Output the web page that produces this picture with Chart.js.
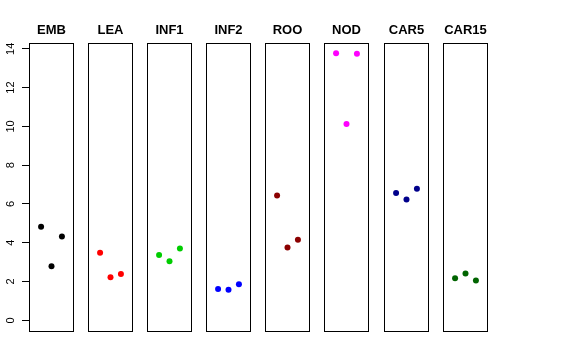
<!DOCTYPE html>
<html>
<head>
<meta charset="utf-8">
<script src="https://cdn.jsdelivr.net/npm/chart.js@4/dist/chart.umd.min.js"></script>
<style>
    body { margin: 0; background: #fff; }
    #wrap { position: relative; width: 576px; height: 360px; }
    #wrap canvas { position: absolute; top: 0; }
</style>
</head>
<body>
<div id="wrap"></div>
<script>
const panelNames = ['EMB', 'LEA', 'INF1', 'INF2', 'ROO', 'NOD', 'CAR5', 'CAR15'];
const panelColors = ['#000000', '#FF0000', '#00CD00', '#0000FF', '#8B0000', '#FF00FF', '#00008B', '#006400'];
const positions = [1, 2, 3];

const embValues = [4.82, 2.79, 4.32];
const leaValues = [3.48, 2.22, 2.39];
const inf1Values = [3.37, 3.05, 3.70];
const inf2Values = [1.62, 1.58, 1.86];
const rooValues = [6.44, 3.75, 4.15];
const nodValues = [13.77, 10.12, 13.75];
const car5Values = [6.56, 6.23, 6.78];
const car15Values = [2.17, 2.41, 2.05];
const yTicks = [0, 2, 4, 6, 8, 10, 12, 14];

const panelValues = [embValues, leaValues, inf1Values, inf2Values, rooValues, nodValues, car5Values, car15Values];

// box left edges in the page, all boxes same width
const boxLeft = [29, 88, 147, 206, 265, 324, 384, 443];
const boxWidth = 45;

const boxPlugin = {
    id: 'box',
    afterDraw(chart) {
        const a = chart.chartArea;
        const ctx = chart.ctx;
        ctx.save();
        ctx.strokeStyle = '#000';
        ctx.lineWidth = 1;
        ctx.strokeRect(Math.round(a.left) + 0.5, Math.round(a.top) + 0.5,
            Math.round(a.right - a.left) - 1, Math.round(a.bottom - a.top));
        // panel title, centred over the box
        ctx.fillStyle = '#000';
        ctx.font = 'bold 13px "Liberation Sans", Arial, sans-serif';
        ctx.textAlign = 'center';
        ctx.textBaseline = 'middle';
        ctx.fillText(chart.options.plugins.box.text, (a.left + a.right) / 2, 30);
        ctx.restore();
    }
};

const yLabelPlugin = {
    id: 'ylabels',
    afterDraw(chart) {
        const y = chart.scales.y;
        const ctx = chart.ctx;
        ctx.save();
        ctx.fillStyle = '#000';
        ctx.font = '11px "Liberation Sans", Arial, sans-serif';
        ctx.textAlign = 'center';
        ctx.textBaseline = 'middle';
        yTicks.forEach(v => {
            ctx.save();
            ctx.translate(11, y.getPixelForValue(v));
            ctx.rotate(-Math.PI / 2);
            ctx.fillText(String(v), 0, 0);
            ctx.restore();
        });
        ctx.restore();
    }
};

const wrap = document.getElementById('wrap');

panelNames.forEach((name, i) => {
    const first = i === 0;
    const canvas = document.createElement('canvas');
    const left = first ? 0 : boxLeft[i] - 5;
    const width = first ? boxLeft[i] + boxWidth + 5 : boxWidth + 10;
    canvas.style.left = left + 'px';
    canvas.style.width = width + 'px';
    canvas.style.height = '360px';
    canvas.width = width;
    canvas.height = 360;
    wrap.appendChild(canvas);

    const yScale = {
        display: first,
        min: -0.55,
        max: 14.3,
        border: {display: false},
        grid: {
            drawOnChartArea: false,
            drawTicks: true,
            tickLength: 7,
            color: '#000',
            lineWidth: 1
        },
        ticks: {
            stepSize: 2,
            includeBounds: false,
            color: 'rgba(0,0,0,0)',
            font: {size: 11}
        }
    };
    if (first) yScale.afterFit = scale => { scale.width = 29; };

    new Chart(canvas, {
        type: 'scatter',
        data: {
            datasets: [{
                data: positions.map((x, k) => ({x: x, y: panelValues[i][k]})),
                backgroundColor: panelColors[i],
                borderColor: panelColors[i],
                pointRadius: 3,
                pointHoverRadius: 3,
                borderWidth: 0
            }]
        },
        options: {
            responsive: false,
            animation: false,
            events: [],
            layout: {padding: {left: first ? 0 : 5, right: 5, top: 43, bottom: 29}},
            plugins: {
                legend: {display: false},
                tooltip: {enabled: false},
                box: {text: name}
            },
            scales: {
                x: {
                    display: false,
                    min: -0.16,
                    max: 4.16
                },
                y: yScale
            }
        },
        plugins: first ? [boxPlugin, yLabelPlugin] : [boxPlugin]
    });
});
</script>
</body>
</html>
